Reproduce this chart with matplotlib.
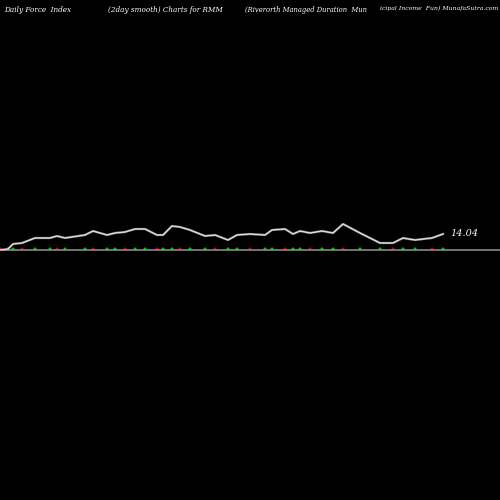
import matplotlib
matplotlib.use("Agg")
import matplotlib.pyplot as plt

days = [0,8,13,22,35,50,57,65,85,93,107,115,125,135,145,157,163,172,180,190,205,215,228,237,250,265,272,285,293,300,310,322,333,343,360,380,393,403,415,432,443]
index_vals = [0,1,6,7,12,12,14,12,15,19,15,17,18,21,21,15,15,24,23,20,14,15,10,15,16,15,20,21,16,19,17,19,17,26,17,7,7,12,10,12,16]
dot_colors = ['#00c000' if i % 3 else '#c00000' for i in range(len(days))]

fig = plt.figure(figsize=(5,5), dpi=100, facecolor='black')
ax = fig.add_axes([0,0,1,1], facecolor='black')
ax.set_xlim(0,500); ax.set_ylim(-250,250)
ax.axis('off')
ax.axhline(0, color='#888888', lw=1.2)
ax.plot(days, index_vals, color='#999999', lw=1.6)
ax.plot(days, index_vals, color='white', lw=0.5)
ax.scatter(days, [1]*len(days), s=1.5, c=dot_colors)
ax.text(450, 17, '14.04', color='white', fontsize=7, style='italic', family='DejaVu Serif', va='center')
fs = dict(color='white', fontsize=5.2, style='italic', family='DejaVu Serif', va='top')
ax.text(4, 244, 'Daily Force  Index', **fs)
ax.text(108, 244, '(2day smooth) Charts for RMM', **fs)
ax.text(245, 244, '(Riverorth Managed Duration  Mun', **{**fs, 'fontsize': 4.9})
ax.text(498, 244, 'icipal Income  Fun) MunafaSutra.com', ha='right', **{**fs, 'fontsize': 4.4})
fig.savefig('out.png', dpi=100, facecolor='black')
